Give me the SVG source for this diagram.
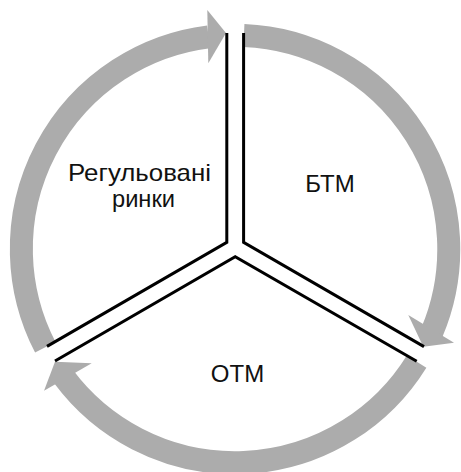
<svg xmlns="http://www.w3.org/2000/svg" width="461" height="472" viewBox="0 0 461 472">
<style>
.arc{fill:none;stroke:#acacac;stroke-width:23;stroke-linecap:butt}
.head{fill:#acacac;stroke:none}
.sep{fill:none;stroke:#000;stroke-width:3;stroke-linejoin:miter}
.lbl{font-family:"Liberation Sans",Arial,sans-serif;font-size:24px;fill:#111;text-anchor:middle}
</style>
<rect width="461" height="472" fill="#fff"/>
<g id="connectors">
  <path class="arc" d="M45.3,347.3 A213.7,213.7 0 0 1 208.6,36.9"/>
  <polygon class="head" points="207.3,10 226,33 208.3,63.3"/>
  <path class="arc" d="M243.95,35.5 A213.7,213.7 0 0 1 431.9,332.2"/>
  <polygon class="head" points="408.3,315 423.3,346.7 454,342.7"/>
  <path class="arc" d="M416.6,361.6 A213.7,213.7 0 0 1 63.4,376.4"/>
  <polygon class="head" points="91.7,363.3 55,361.7 44,390.7"/>
</g>
<g id="node-regulated">
  <polyline class="sep" points="226.8,33 226.8,242.3 47,346.4"/>
  <text class="lbl" x="139.5" y="180.5" textLength="143" lengthAdjust="spacingAndGlyphs">Регульовані</text>
  <text class="lbl" x="143.5" y="207" textLength="63" lengthAdjust="spacingAndGlyphs">ринки</text>
</g>
<g id="node-btm">
  <polyline class="sep" points="243.6,33 243.6,242.3 424,346.6"/>
  <text class="lbl" x="330" y="192.3">БТМ</text>
</g>
<g id="node-otm">
  <polyline class="sep" points="55,361 235.2,256.7 416.7,361.3"/>
  <text class="lbl" x="237.5" y="381.7">ОТМ</text>
</g>
</svg>
